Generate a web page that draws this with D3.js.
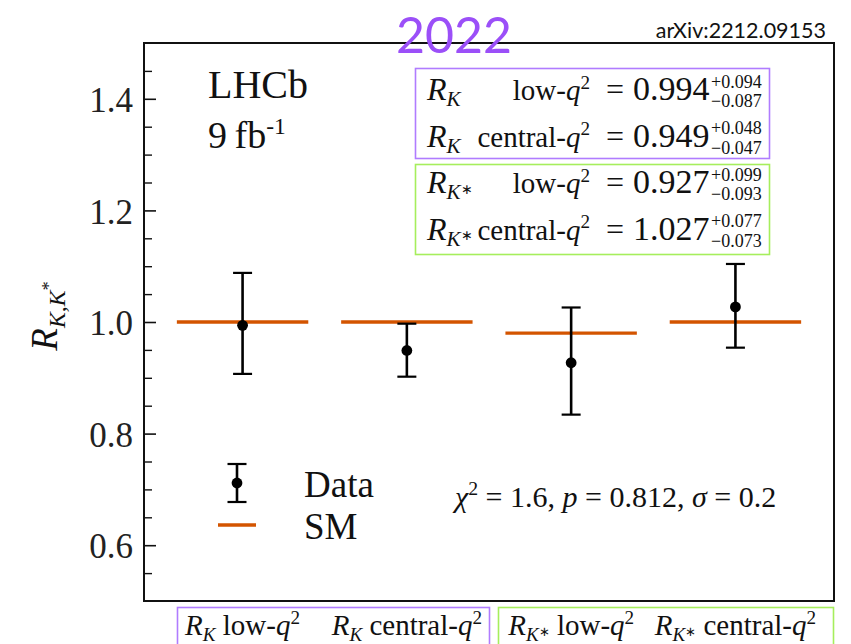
<!DOCTYPE html>
<html>
<head>
<meta charset="utf-8">
<script src="https://cdn.jsdelivr.net/npm/d3@7"></script>
<style>
  body { margin: 0; background: #fff; }
  svg { display: block; }
</style>
</head>
<body>
<svg id="chart"></svg>
<script>
// Measurements (LHCb 9 fb-1, arXiv:2212.09153)
const categories = ["RK low-q2", "RK central-q2", "RK* low-q2", "RK* central-q2"];
const values = [0.994, 0.949, 0.927, 1.027];
const errUp = [0.094, 0.048, 0.099, 0.077];
const errDown = [0.087, 0.047, 0.093, 0.073];
const smValues = [1.0, 1.0, 0.98, 1.0];

const yMajorTicks = [0.6, 0.8, 1.0, 1.2, 1.4];
const yMinorTicks = [0.55, 0.65, 0.7, 0.75, 0.85, 0.9, 0.95, 1.05, 1.1, 1.15, 1.25, 1.3, 1.35, 1.45];

const boxRows = [
  { star: false, bin: "low", value: "0.994", up: "+0.094", down: "\u22120.087" },
  { star: false, bin: "central", value: "0.949", up: "+0.048", down: "\u22120.047" },
  { star: true, bin: "low", value: "0.927", up: "+0.099", down: "\u22120.093" },
  { star: true, bin: "central", value: "1.027", up: "+0.077", down: "\u22120.073" }
];

const width = 851;
const height = 644;
const margin = { top: 43, right: 17, bottom: 43, left: 144 };

const serif = "Liberation Serif";
const purple = "#b07cff";
const green = "#a6ee5c";
const smColor = "#d35400";

const svg = d3.select("#chart")
  .attr("width", width)
  .attr("height", height);

const x = d3.scaleLinear()
  .domain([-0.6, 3.6])
  .range([margin.left, width - margin.right]);

const y = d3.scaleLinear()
  .domain([0.5, 1.5])
  .range([height - margin.bottom, margin.top]);

// text with italic / raised / lowered pieces
function rich(sel, px, py, parts, size, anchor) {
  const t = sel.append("text")
    .attr("x", px)
    .attr("y", py)
    .attr("font-family", serif)
    .attr("font-size", size)
    .attr("text-anchor", anchor || "start")
    .attr("fill", "#111");
  let off = 0;
  parts.forEach(p => {
    const target = (p.off || 0) * size;
    const ts = t.append("tspan").attr("dy", target - off).text(p.t);
    if (p.i) ts.attr("font-style", "italic");
    if (p.s) ts.attr("font-size", size * p.s);
    off = target;
  });
  return t;
}

const R = star => star
  ? [{ t: "R", i: 1 }, { t: "K", i: 1, off: 0.2, s: 0.66 }, { t: "\u2217", off: 0.02, s: 0.45 }]
  : [{ t: "R", i: 1 }, { t: "K", i: 1, off: 0.2, s: 0.66 }];
const Q = bin => [{ t: bin + "-" }, { t: "q", i: 1 }, { t: "2", off: -0.38, s: 0.66 }];

// Y axis, ticks pointing inward
const yAxis = svg.append("g")
  .attr("transform", `translate(${margin.left},0)`)
  .call(d3.axisLeft(y).tickValues(yMajorTicks).tickSizeInner(-12).tickSizeOuter(0)
    .tickPadding(11).tickFormat(d3.format(".1f")));
yAxis.select(".domain").remove();
yAxis.attr("font-family", serif);
yAxis.selectAll("line").attr("stroke", "#111").attr("stroke-width", 1.6);
yAxis.selectAll("text")
  .attr("font-size", 35)
  .attr("fill", "#222")
  .attr("dy", "0.36em");

const yMinor = svg.append("g")
  .attr("transform", `translate(${margin.left},0)`)
  .call(d3.axisLeft(y).tickValues(yMinorTicks).tickSizeInner(-8).tickSizeOuter(0).tickFormat(""));
yMinor.select(".domain").remove();
yMinor.selectAll("line").attr("stroke", "#111").attr("stroke-width", 1.4);

// SM predictions
svg.selectAll(".sm")
  .data(smValues)
  .enter()
  .append("line")
  .attr("class", "sm")
  .attr("x1", (d, i) => x(i - 0.4))
  .attr("x2", (d, i) => x(i + 0.4))
  .attr("y1", d => y(d))
  .attr("y2", d => y(d))
  .attr("stroke", smColor)
  .attr("stroke-width", 3.4);

// Data error bars
const capW = 9.5;
const pts = svg.selectAll(".pt")
  .data(values)
  .enter()
  .append("g")
  .attr("class", "pt");

pts.append("line")
  .attr("x1", (d, i) => x(i)).attr("x2", (d, i) => x(i))
  .attr("y1", (d, i) => y(d + errUp[i]))
  .attr("y2", (d, i) => y(d - errDown[i]))
  .attr("stroke", "#000").attr("stroke-width", 2.6);
pts.append("line")
  .attr("x1", (d, i) => x(i) - capW).attr("x2", (d, i) => x(i) + capW)
  .attr("y1", (d, i) => y(d + errUp[i])).attr("y2", (d, i) => y(d + errUp[i]))
  .attr("stroke", "#000").attr("stroke-width", 2.2);
pts.append("line")
  .attr("x1", (d, i) => x(i) - capW).attr("x2", (d, i) => x(i) + capW)
  .attr("y1", (d, i) => y(d - errDown[i])).attr("y2", (d, i) => y(d - errDown[i]))
  .attr("stroke", "#000").attr("stroke-width", 2.2);
pts.append("circle")
  .attr("cx", (d, i) => x(i))
  .attr("cy", d => y(d))
  .attr("r", 5.4)
  .attr("fill", "#000");

// Frame
svg.append("rect")
  .attr("x", margin.left)
  .attr("y", margin.top)
  .attr("width", width - margin.left - margin.right)
  .attr("height", height - margin.top - margin.bottom)
  .attr("fill", "none")
  .attr("stroke", "#111")
  .attr("stroke-width", 2);

// Y label
const yl = rich(svg, 0, 0, [
  { t: "R", i: 1 },
  { t: "K,K", i: 1, off: 0.22, s: 0.64 },
  { t: "*", off: -0.05, s: 0.5 }
], 37, "middle");
yl.attr("transform", "translate(57,316) rotate(-90)");

// Experiment label
rich(svg, 208, 98, [{ t: "LHCb" }], 40);
rich(svg, 208, 148, [{ t: "9\u2009fb" }, { t: "-1", off: -0.36, s: 0.62 }], 38);

// Legend
const leg = svg.append("g");
leg.append("line").attr("x1", 237).attr("x2", 237).attr("y1", 464).attr("y2", 502)
  .attr("stroke", "#000").attr("stroke-width", 2.6);
leg.selectAll(".cap").data([464, 502]).enter().append("line")
  .attr("x1", 237 - capW).attr("x2", 237 + capW)
  .attr("y1", d => d).attr("y2", d => d)
  .attr("stroke", "#000").attr("stroke-width", 2.2);
leg.append("circle").attr("cx", 237).attr("cy", 483).attr("r", 5.4).attr("fill", "#000");
leg.append("line").attr("x1", 218).attr("x2", 256).attr("y1", 525).attr("y2", 525)
  .attr("stroke", smColor).attr("stroke-width", 3.4);
rich(leg, 304, 497, [{ t: "Data" }], 37);
rich(leg, 304, 539, [{ t: "SM" }], 37);

// Fit summary
rich(svg, 455, 507, [
  { t: "\u03c7", i: 1 }, { t: "2", off: -0.4, s: 0.66 },
  { t: " = 1.6, " }, { t: "p", i: 1 }, { t: " = 0.812, " },
  { t: "\u03c3", i: 1 }, { t: " = 0.2" }
], 30);

// Result boxes
svg.append("rect").attr("x", 415.5).attr("y", 68.5).attr("width", 354).attr("height", 90)
  .attr("fill", "#fff").attr("stroke", purple).attr("stroke-width", 1.6);
svg.append("rect").attr("x", 415.5).attr("y", 164.5).attr("width", 354).attr("height", 90)
  .attr("fill", "#fff").attr("stroke", green).attr("stroke-width", 1.6);

const rowY = d3.scaleLinear().domain([0, 3]).range([100, 239.5]);
boxRows.forEach((r, i) => {
  const by = rowY(i);
  rich(svg, 427, by, R(r.star), 32);
  rich(svg, 590, by, Q(r.bin), 29, "end");
  rich(svg, 606, by, [{ t: "=" }], 32);
  rich(svg, 633, by, [{ t: r.value }], 34);
  rich(svg, 711, by - 12.5, [{ t: r.up }], 18);
  rich(svg, 711, by + 7, [{ t: r.down }], 18);
});

// Category labels under the frame
svg.append("rect").attr("x", 177.5).attr("y", 607.5).attr("width", 312).attr("height", 50)
  .attr("fill", "none").attr("stroke", purple).attr("stroke-width", 1.6);
svg.append("rect").attr("x", 498.5).attr("y", 607.5).attr("width", 335).attr("height", 50)
  .attr("fill", "none").attr("stroke", green).attr("stroke-width", 1.6);

categories.forEach((c, i) => {
  rich(svg, x(i), 635, R(i > 1).concat([{ t: " " }], Q(i % 2 ? "central" : "low")), 29, "middle");
});

// Header
svg.append("text")
  .attr("x", 396).attr("y", 53)
  .attr("font-family", "Lato")
  .attr("font-size", 50)
  .attr("fill", "#9b4ff8")
  .text("2022");
svg.append("text")
  .attr("x", 826).attr("y", 38)
  .attr("text-anchor", "end")
  .attr("font-family", "Lato")
  .attr("font-size", 21.5)
  .attr("fill", "#111")
  .text("arXiv:2212.09153");
</script>
</body>
</html>
